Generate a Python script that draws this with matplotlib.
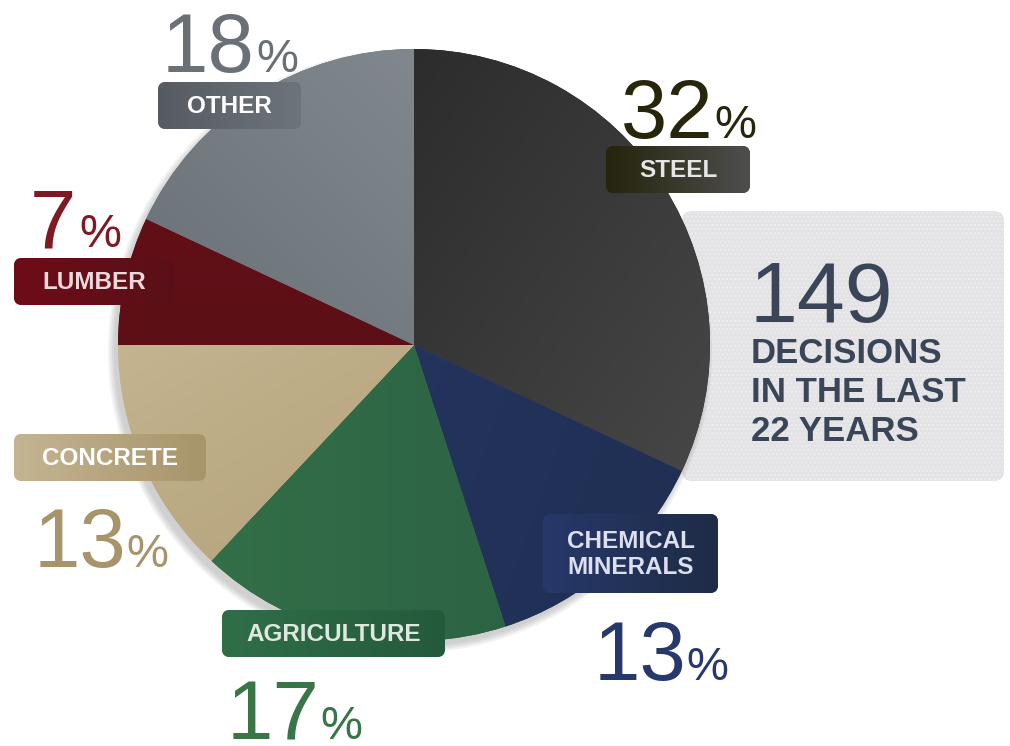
import numpy as np
import matplotlib
matplotlib.use("Agg")
import matplotlib.pyplot as plt
from matplotlib.patches import FancyBboxPatch, Circle
from matplotlib.colors import LinearSegmentedColormap

# ---------------- data ----------------
categories = ["STEEL", "CHEMICAL\nMINERALS", "AGRICULTURE", "CONCRETE", "LUMBER", "OTHER"]
values = [32, 13, 17, 13, 7, 18]
total_decisions = "149"
total_caption = ["DECISIONS", "IN THE LAST", "22 YEARS"]

# wedge gradient colours (start, end) and gradient direction
wedge_colors = [("#1f1f1f", "#4c4c4c"), ("#28396b", "#1f2e50"), ("#347249", "#295c42"),
                ("#d0c2a0", "#a9966b"), ("#6a0f19", "#4f0f14"), ("#5a636a", "#8e9499")]
grad_angles = [35, 20, 0, 60, 90, -45]
box_colors = [("#25240c", "#4e4e4e"), ("#27386a", "#1e2c46"), ("#2f6f48", "#245a3c"),
              ("#c4b592", "#a8946a"), ("#6e0c18", "#5a1018"), ("#565b62", "#6e747b")]
pct_colors = ["#27260a", "#27386a", "#3a7548", "#a8946a", "#7d1a22", "#6b7076"]
label_text_colors = ["#e6e6e6", "#dcdfee", "#dfe8df", "#ffffff", "#ead9dc", "#ffffff"]

# ---------------- layout (pixel coords, y down) ----------------
W, H = 1010, 746
fig = plt.figure(figsize=(W / 100, H / 100), dpi=100)
ax = fig.add_axes([0, 0, 1, 1])
ax.set_xlim(0, W)
ax.set_ylim(H, 0)
ax.axis("off")

FONT = "Liberation Sans"
cx, cy, R = 414, 345, 296

def gradient_fill(patch, c1, c2, extent, angle_deg=0, z=2):
    cmap = LinearSegmentedColormap.from_list("g", [c1, c2])
    x0, x1, y0, y1 = extent
    n = 256
    xx, yy = np.meshgrid(np.linspace(0, 1, n), np.linspace(0, 1, n))
    a = np.deg2rad(angle_deg)
    g = xx * np.cos(a) + yy * np.sin(a)
    g = (g - g.min()) / (g.max() - g.min())
    im = ax.imshow(g, cmap=cmap, extent=(x0, x1, y1, y0), origin="upper",
                   zorder=z, interpolation="bilinear", aspect="auto")
    im.set_clip_path(patch)
    return im

# side panel
panel = FancyBboxPatch((682, 211), 322, 270, boxstyle="round,pad=0,rounding_size=10",
                       facecolor="#e3e3e5", edgecolor="none", zorder=1)
ax.add_patch(panel)
ax.add_patch(FancyBboxPatch((682, 211), 322, 270, boxstyle="round,pad=0,rounding_size=10",
                            facecolor="none", edgecolor="#ececee", hatch="....",
                            linewidth=0, zorder=1.1))

# pie shadow
for i, a in enumerate([0.05, 0.05, 0.05, 0.04]):
    ax.add_patch(Circle((cx - 4, cy + 6), R + 6 - 2 * i, facecolor="#000000",
                        alpha=a, edgecolor="none", zorder=1.5))

wedges, _ = ax.pie(values, startangle=-90, counterclock=True, center=(cx, cy),
                   radius=R, frame=True,
                   wedgeprops=dict(linewidth=0, edgecolor="none"))
ax.set_xlim(0, W)
ax.set_ylim(H, 0)
ax.set_aspect("auto")
ax.axis("off")

for w, (c1, c2), ang in zip(wedges, wedge_colors, grad_angles):
    w.set_facecolor(c1)
    w.set_zorder(2)
    gradient_fill(w, c1, c2, (cx - R, cx + R, cy - R, cy + R), ang, z=2.1)

# ---------------- labels ----------------
boxes = [(606, 146, 144, 47), (543, 514, 175, 79), (222, 610, 223, 47),
         (14, 434, 192, 47), (14, 258, 160, 47), (158, 82, 143, 47)]
num_pos = [(621, 138), (594, 680), (227, 739), (34, 567), (30, 247), (162, 72)]
pct_gap = [1, 0, 0, 0, 3, 1]

renderer = fig.canvas.get_renderer()
for i, cat in enumerate(categories):
    x, y, w, h = boxes[i]
    b = FancyBboxPatch((x, y), w, h, boxstyle="round,pad=0,rounding_size=8",
                       facecolor=box_colors[i][0], edgecolor="none", zorder=3)
    ax.add_patch(b)
    gradient_fill(b, box_colors[i][0], box_colors[i][1], (x, x + w, y, y + h), 0, z=3.1)
    ax.text(x + w / 2, y + h / 2 + 1, cat, ha="center", va="center", fontsize=17.5,
            fontweight="bold", family=FONT, color=label_text_colors[i], zorder=4,
            linespacing=1.22)
    nx, ny = num_pos[i]
    t = ax.text(nx, ny, f"{values[i]}", ha="left", va="baseline", fontsize=60,
                family=FONT, color=pct_colors[i], zorder=4)
    bb = t.get_window_extent(renderer=renderer)
    ax.text(bb.x1 + pct_gap[i], ny, "%", ha="left", va="baseline", fontsize=34,
            family=FONT, color=pct_colors[i], zorder=4)

# ---------------- side panel text ----------------
ax.text(750, 322, total_decisions, ha="left", va="baseline", fontsize=62,
        family=FONT, color="#3a4558", zorder=4)
for j, line in enumerate(total_caption):
    ax.text(751, 363 + 39 * j, line, ha="left", va="baseline", fontsize=25,
            fontweight="bold", family=FONT, color="#3a4558", zorder=4)

fig.savefig("out.png", dpi=100, facecolor="white")
